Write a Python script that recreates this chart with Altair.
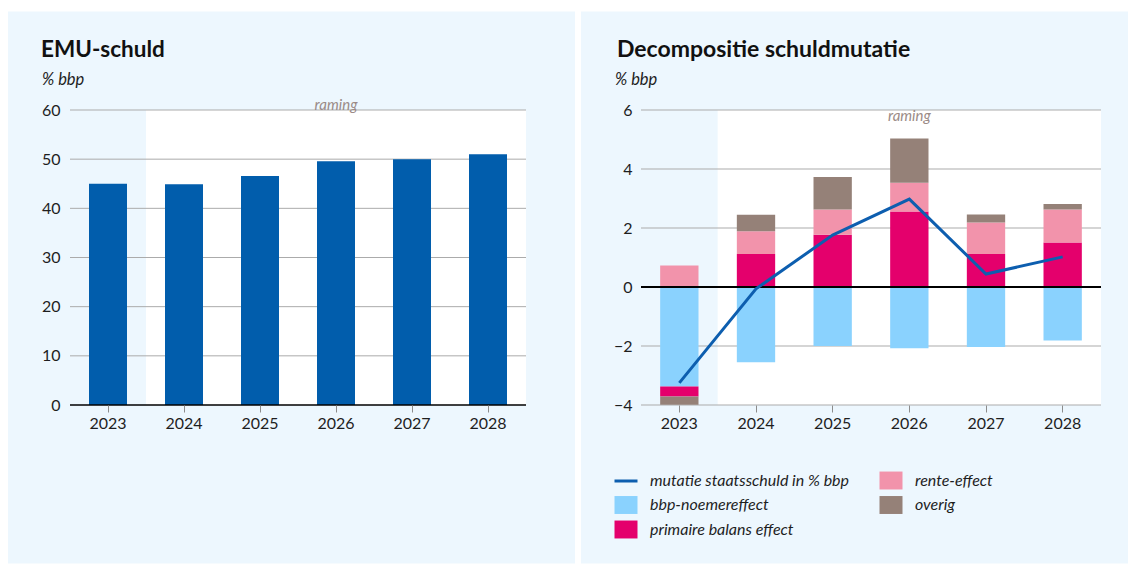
import altair as alt
import pandas as pd

# ---------------- data ----------------
years = ["2023", "2024", "2025", "2026", "2027", "2028"]
emu_schuld = [45.0, 44.9, 46.6, 49.6, 50.0, 51.0]
left_ticks = [0, 10, 20, 30, 40, 50, 60]

bbp_noemer = [-3.37, -2.55, -2.00, -2.08, -2.03, -1.81]
primaire = [-0.34, 1.12, 1.77, 2.56, 1.12, 1.51]
rente = [0.73, 0.77, 0.86, 0.97, 1.07, 1.12]
overig = [-0.28, 0.56, 1.10, 1.50, 0.27, 0.18]
mutatie = [-3.25, -0.06, 1.76, 2.98, 0.44, 1.02]
right_ticks = [-4, -2, 0, 2, 4, 6]

comp_names = ["bbp-noemereffect", "primaire balans effect", "rente-effect", "overig"]
line_name = "mutatie staatsschuld in % bbp"
legend_order = [line_name, "bbp-noemereffect", "primaire balans effect", "rente-effect", "overig"]
legend_colors = ["#0D5EAF", "#8AD2FE", "#E4006C", "#F293AB", "#958178"]

title_left = "EMU-schuld"
title_right = "Decompositie schuldmutatie"
unit = "% bbp"
forecast_label = "raming"
forecast_year = "2026"

# ---------------- style ----------------
FONT = "Lato"
PANEL = "#EDF7FE"
GRID = "#ABABAB"
TXT = "#1E1E1E"
RAM = "#9B8B87"
BAR_BLUE = "#015DAC"
LINE_BLUE = "#0D5EAF"
W1, W2, H = 456, 460, 295
PANEL_TOP, PANEL_BOTTOM = -98.5, H + 158.5

one = pd.DataFrame({"k": [0]})


def x_axis():
    return alt.Axis(title=None, grid=False, domain=False, ticks=True, tickSize=7,
                    tickColor="#8C8C8C", tickWidth=1, labelFont=FONT, labelFontSize=16,
                    labelColor=TXT, labelPadding=3, labelAngle=0, zindex=1)


def y_axis(values, pad):
    return alt.Axis(title=None, grid=False, domain=False, ticks=False, tickSize=0,
                    values=values, labelFont=FONT, labelFontSize=16, labelColor=TXT,
                    labelPadding=pad, zindex=1)


def panel(width, x0, x1):
    bg = alt.Chart(one).mark_rect(color=PANEL).encode(
        x=alt.value(x0), x2=alt.value(x1), y=alt.value(PANEL_TOP), y2=alt.value(PANEL_BOTTOM))
    fc = alt.Chart(one).mark_rect(color="white").encode(
        x=alt.value(width / 6), x2=alt.value(width), y=alt.value(0), y2=alt.value(H))
    return bg, fc


def titles(title, tx, ux, size):
    t = alt.Chart(one).mark_text(font=FONT, fontSize=size, fontWeight="bold", color="#111111",
                                 align="left", baseline="alphabetic").encode(
        x=alt.value(tx), y=alt.value(-53), text=alt.value(title))
    u = alt.Chart(one).mark_text(font=FONT, fontSize=16.5, fontStyle="italic", color=TXT,
                                 align="left", baseline="alphabetic").encode(
        x=alt.value(ux), y=alt.value(-25), text=alt.value(unit))
    return t, u


# ---------------- left chart ----------------
xs1 = alt.Scale(domain=years, paddingInner=0.5, paddingOuter=0.25)
ys1 = alt.Scale(domain=[0, 60], nice=False)
xa1 = x_axis()
ya1 = y_axis(left_ticks, 10)

df1 = pd.DataFrame({"year": years, "v": emu_schuld})
bg1, fc1 = panel(W1, -62, 505)
grid1 = alt.Chart(pd.DataFrame({"v": left_ticks[1:]})).mark_rule(color=GRID, strokeWidth=1).encode(
    y=alt.Y("v:Q", scale=ys1, axis=ya1), x=alt.value(0), x2=alt.value(W1))
bars1 = alt.Chart(df1).mark_bar(color=BAR_BLUE).encode(
    x=alt.X("year:N", scale=xs1, axis=xa1, sort=years),
    y=alt.Y("v:Q", scale=ys1, axis=ya1))
zero1 = alt.Chart(pd.DataFrame({"v": [0]})).mark_rule(color="#000000", strokeWidth=1.6).encode(
    y=alt.Y("v:Q", scale=ys1, axis=ya1), x=alt.value(0), x2=alt.value(W1))
ram1 = alt.Chart(pd.DataFrame({"year": [forecast_year], "v": [60], "t": [forecast_label]})).mark_text(
    font=FONT, fontSize=15, fontStyle="italic", color=RAM, baseline="alphabetic", dy=-0.5).encode(
    x=alt.X("year:N", scale=xs1, axis=xa1, sort=years), y=alt.Y("v:Q", scale=ys1, axis=ya1), text="t:N")
t1, u1 = titles(title_left, -29, -28, 22.5)

left = alt.layer(bg1, fc1, grid1, bars1, zero1, ram1, t1, u1).properties(width=W1, height=H)

# ---------------- right chart ----------------
xs2 = alt.Scale(domain=years, paddingInner=0.5, paddingOuter=0.25)
ys2 = alt.Scale(domain=[-4, 6], nice=False)
xa2 = x_axis()
ya2 = y_axis(right_ticks, 9)

rows = []
for i, y in enumerate(years):
    for j, (name, arr) in enumerate(zip(comp_names, [bbp_noemer, primaire, rente, overig])):
        rows.append({"year": y, "comp": name, "v": arr[i], "ord": j})
df2 = pd.DataFrame(rows)
dfl = pd.DataFrame({"year": years, "v": mutatie})

bg2, fc2 = panel(W2, -60, 487)
grid2 = alt.Chart(pd.DataFrame({"v": [t for t in right_ticks if t != 0]})).mark_rule(
    color=GRID, strokeWidth=1).encode(
    y=alt.Y("v:Q", scale=ys2, axis=ya2), x=alt.value(0), x2=alt.value(W2))

test = f"datum.value === '{line_name}'"
legend = alt.Legend(
    title=None, orient="none", legendX=-23, legendY=362.5, columns=2, columnPadding=29,
    rowPadding=6.5, symbolSize=529, labelFont=FONT, labelFontSize=16, labelFontStyle="italic",
    labelColor=TXT, labelOffset=16, labelLimit=400, padding=0,
    symbolType=alt.ExprRef(expr=f"{test} ? 'M-1,0H1' : 'M-1,-0.78H1V0.78H-1Z'"),
    symbolStrokeColor=alt.ExprRef(expr=f"{test} ? '{LINE_BLUE}' : 'transparent'"),
    symbolStrokeWidth=alt.ExprRef(expr=f"{test} ? 3 : 0"),
)

bars2 = alt.Chart(df2).mark_bar().encode(
    x=alt.X("year:N", scale=xs2, axis=xa2, sort=years),
    y=alt.Y("v:Q", scale=ys2, axis=ya2, stack="zero"),
    color=alt.Color("comp:N", scale=alt.Scale(domain=legend_order, range=legend_colors), legend=legend),
    order=alt.Order("ord:Q"))
zero2 = alt.Chart(pd.DataFrame({"v": [0]})).mark_rule(color="#000000", strokeWidth=2).encode(
    y=alt.Y("v:Q", scale=ys2, axis=ya2), x=alt.value(0), x2=alt.value(W2))
line2 = alt.Chart(dfl).mark_line(color=LINE_BLUE, strokeWidth=3).encode(
    x=alt.X("year:N", scale=xs2, axis=xa2, sort=years),
    y=alt.Y("v:Q", scale=ys2, axis=ya2))
ram2 = alt.Chart(pd.DataFrame({"year": [forecast_year], "v": [6], "t": [forecast_label]})).mark_text(
    font=FONT, fontSize=15, fontStyle="italic", color=RAM, baseline="alphabetic", dy=11).encode(
    x=alt.X("year:N", scale=xs2, axis=xa2, sort=years), y=alt.Y("v:Q", scale=ys2, axis=ya2), text="t:N")
t2, u2 = titles(title_right, -24, -26, 23)

right = alt.layer(bg2, fc2, grid2, bars2, zero2, line2, ram2, t2, u2).properties(width=W2, height=H)

chart = alt.hconcat(left, right, spacing=6).resolve_scale(color="independent").properties(
    padding={"left": 0, "top": 3, "right": 0, "bottom": 0}, background="white"
).configure_view(stroke=None)

chart.save("out.html", embed_options={"renderer": "svg", "actions": False})
